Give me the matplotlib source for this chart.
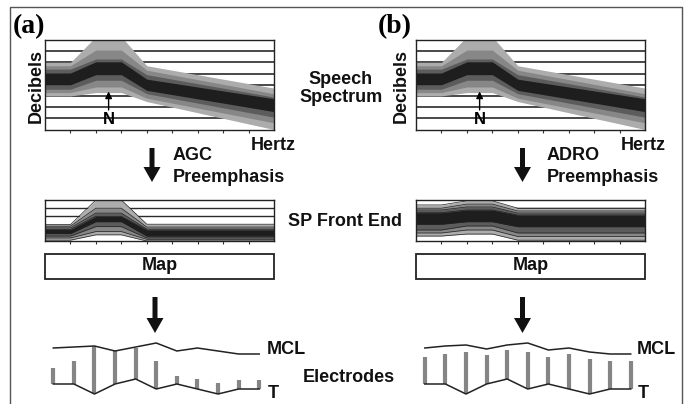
import matplotlib
matplotlib.use("Agg")
import matplotlib.pyplot as plt
from matplotlib.patches import FancyArrow, Rectangle

plt.rcParams['font.family'] = ['Liberation Sans', 'DejaVu Sans']

W, H = 686, 404

# --- speech spectrum (grid units: x 0..9, y 0..8) ---
spec_x = [0, 1, 2, 3, 4, 9]
spec_light_hi = [6.0, 6.0, 8.3, 8.3, 5.7, 3.7]
spec_light_lo = [3.0, 3.0, 3.3, 3.3, 2.5, 0.0]
spec_mid_hi = [5.7, 5.7, 7.1, 7.1, 5.3, 3.2]
spec_mid_lo = [3.3, 3.3, 3.8, 3.8, 2.8, 0.6]
spec_dark_hi = [5.4, 5.4, 6.3, 6.3, 4.9, 2.9]
spec_dark_lo = [3.6, 3.6, 4.4, 4.4, 3.2, 1.1]
spec_black_hi = [5.05, 5.05, 6.05, 6.05, 4.5, 2.75]
spec_black_lo = [4.0, 4.0, 4.9, 4.9, 3.5, 1.6]

# --- SP front end after AGC (y 0..5) ---
agc_light_hi = [2.0, 2.0, 5.0, 5.0, 2.05, 2.05]
agc_light_lo = [0.1, 0.1, 0.75, 0.75, 0.0, 0.0]
agc_mid_hi = [1.8, 1.8, 4.0, 4.0, 1.7, 1.7]
agc_mid_lo = [0.37, 0.37, 1.15, 1.15, 0.2, 0.2]
agc_dark_hi = [1.6, 1.6, 3.4, 3.4, 1.46, 1.46]
agc_dark_lo = [0.6, 0.6, 1.75, 1.75, 0.37, 0.37]
agc_black_hi = [1.4, 1.4, 3.0, 3.0, 1.34, 1.34]
agc_black_lo = [0.9, 0.9, 2.35, 2.35, 0.6, 0.6]

# --- SP front end after ADRO (y 0..5) ---
adro_light_hi = [4.4, 4.4, 4.9, 4.9, 4.0, 4.0]
adro_light_lo = [0.6, 0.6, 0.85, 0.85, 0.1, 0.1]
adro_mid_hi = [4.0, 4.0, 4.5, 4.5, 3.66, 3.66]
adro_mid_lo = [0.98, 0.98, 1.34, 1.34, 0.55, 0.55]
adro_dark_hi = [3.78, 3.78, 4.15, 4.15, 3.41, 3.41]
adro_dark_lo = [1.34, 1.34, 1.83, 1.83, 0.98, 0.98]
adro_black_hi = [3.45, 3.45, 3.78, 3.78, 3.17, 3.17]
adro_black_lo = [2.04, 2.04, 2.35, 2.35, 1.74, 1.74]

# --- electrodes (11 channels, level units) ---
electrodes = list(range(11))
agc_mcl = [50, 51, 52, 47, 51, 55, 47, 50, 47, 44, 44]
agc_t = [14, 14, 4, 14, 19, 9, 14, 9, 4, 9, 9]
agc_bar = [30, 37, 52, 48, 50, 37, 22, 19, 15, 18, 18]
adro_mcl = [50, 52, 53, 49, 53, 55, 48, 50, 46, 44, 44]
adro_t = [14, 14, 4, 14, 19, 9, 14, 9, 4, 9, 9]
adro_bar = [41, 44, 46, 43, 48, 46, 41, 44, 39, 37, 37]

LIGHT, MID, DARK, BLACK = '#acacac', '#878787', '#5c5c5c', '#1e1e1e'
BAR_GRAY = '#858585'

fig = plt.figure(figsize=(W / 100, H / 100), dpi=100)


def px_axes(x0, y0, x1, y1):
    return fig.add_axes([x0 / W, 1 - y1 / H, (x1 - x0) / W, (y1 - y0) / H])


def draw_layers(ax, layers, edges=False):
    for hi, lo, col in layers:
        ax.fill_between(spec_x, lo, hi, color=col, lw=0, zorder=3)
        if edges:
            ax.plot(spec_x, hi, color='#222222', lw=0.5, zorder=4)
            ax.plot(spec_x, lo, color='#222222', lw=0.5, zorder=4)


def box_axes(x0, y0, x1, y1, ny, lw_grid):
    ax = px_axes(x0, y0, x1, y1)
    ax.set_xlim(0, 9)
    ax.set_ylim(0, ny)
    for yy in range(1, ny):
        ax.axhline(yy, color='#2a2a2a', lw=lw_grid, zorder=1)
    ax.set_xticks(range(1, 9))
    ax.set_yticks([])
    ax.tick_params(axis='x', direction='out', length=2.5, width=0.8,
                   labelbottom=False, color='#333333')
    for s in ax.spines.values():
        s.set_linewidth(1.0)
        s.set_color('#222222')
        s.set_zorder(5)
    return ax


for x0 in (45, 416):
    ax = box_axes(x0, 40, x0 + 229, 129.5, 8, 1.2)
    draw_layers(ax, [(spec_light_hi, spec_light_lo, LIGHT),
                     (spec_mid_hi, spec_mid_lo, MID),
                     (spec_dark_hi, spec_dark_lo, DARK),
                     (spec_black_hi, spec_black_lo, BLACK)])
    ax.annotate('', xy=(2.5, 3.65), xytext=(2.5, 1.5),
                arrowprops=dict(arrowstyle='-|>', lw=1.0, color='black',
                                mutation_scale=10), zorder=6)
    ax.text(2.5, 0.85, 'N', ha='center', va='center', fontsize=12,
            fontweight='bold', zorder=6)

fe_sets = [
    (45, [(agc_light_hi, agc_light_lo, LIGHT), (agc_mid_hi, agc_mid_lo, MID),
          (agc_dark_hi, agc_dark_lo, DARK), (agc_black_hi, agc_black_lo, BLACK)]),
    (416, [(adro_light_hi, adro_light_lo, LIGHT), (adro_mid_hi, adro_mid_lo, MID),
           (adro_dark_hi, adro_dark_lo, DARK), (adro_black_hi, adro_black_lo, BLACK)]),
]
for x0, layers in fe_sets:
    ax = box_axes(x0, 200, x0 + 229, 241, 5, 1.0)
    draw_layers(ax, layers, edges=True)

# electrode panels
for x0, mcl, tl, bar in [(43, agc_mcl, agc_t, agc_bar),
                         (414.5, adro_mcl, adro_t, adro_bar)]:
    ax = px_axes(x0, 338, x0 + 226.5, 398)
    ax.set_xlim(-0.5, 10.5)
    ax.set_ylim(0, 60)
    ax.axis('off')
    ax.vlines(electrodes, tl, bar, color=BAR_GRAY, lw=3, zorder=2)
    ax.plot(electrodes, mcl, color='#222222', lw=1.1, zorder=3)
    ax.plot(electrodes, tl, color='#222222', lw=1.1, zorder=3)

# overlay for labels and arrows (pixel coordinates)
ov = fig.add_axes([0, 0, 1, 1])
ov.set_xlim(0, W)
ov.set_ylim(H, 0)
ov.axis('off')
ov.patch.set_visible(False)

ov.plot([10, 10, 682, 682], [404, 7, 7, 404], color='#555555', lw=1.0)

bold = dict(fontsize=13, fontweight='bold', color='#111111')
ov.text(29, 27, '(a)', ha='center', va='center', fontsize=20,
        fontweight='bold', family='Liberation Serif')
ov.text(395, 27, '(b)', ha='center', va='center', fontsize=20,
        fontweight='bold', family='Liberation Serif')
for xd in (36.5, 401):
    ov.text(xd, 86, 'Decibels', rotation=90, ha='center', va='center', **bold)
ov.text(341, 79, 'Speech', ha='center', va='center', **bold)
ov.text(341, 97, 'Spectrum', ha='center', va='center', **bold)
ov.text(273, 145, 'Hertz', ha='center', va='center', **bold)
ov.text(643, 145, 'Hertz', ha='center', va='center', **bold)
ov.text(172.5, 155, 'AGC', ha='left', va='center', **bold)
ov.text(172.5, 177, 'Preemphasis', ha='left', va='center', **bold)
ov.text(546.5, 155, 'ADRO', ha='left', va='center', **bold)
ov.text(546.5, 177, 'Preemphasis', ha='left', va='center', **bold)
ov.text(345, 221, 'SP Front End', ha='center', va='center', **bold)
ov.text(349, 377, 'Electrodes', ha='center', va='center', **bold)
ov.text(267, 350, 'MCL', ha='left', va='center', **bold)
ov.text(636.5, 350, 'MCL', ha='left', va='center', **bold)
ov.text(268, 394, 'T', ha='left', va='center', **bold)
ov.text(638, 394, 'T', ha='left', va='center', **bold)

for x0 in (45, 416):
    ov.add_patch(Rectangle((x0, 253.5), 229, 25, fill=False, ec='#222222', lw=1.3))
    ov.text(x0 + 114.5, 266, 'Map', ha='center', va='center', **bold)

for xa, ya, dy in [(152, 148, 34), (522.5, 148, 34), (155, 297, 36), (522.5, 297, 36)]:
    ov.add_patch(FancyArrow(xa, ya, 0, dy, width=5, head_width=17,
                            head_length=15, length_includes_head=True,
                            color='#111111', lw=0))

fig.savefig('out.png', dpi=100)
